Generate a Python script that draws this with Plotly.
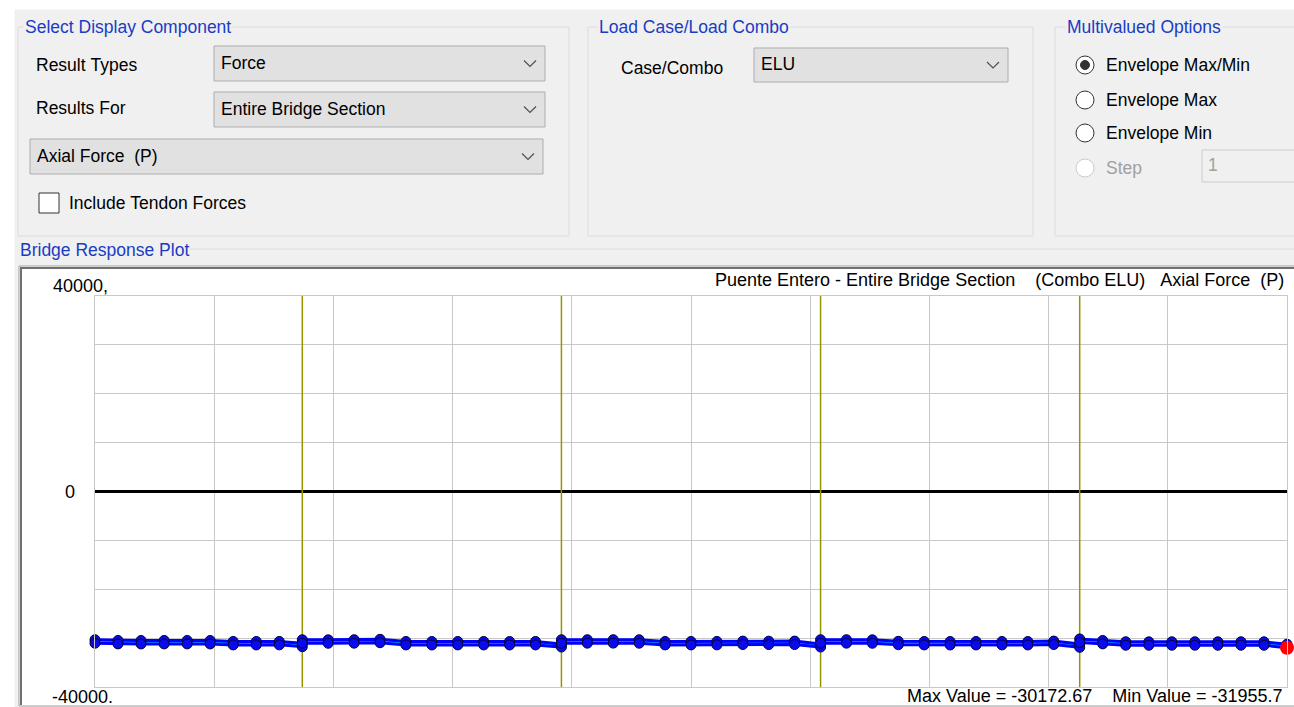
import plotly.graph_objects as go

# ---- data (kN, stations in m) ----
stations = [0, 2.22, 4.44, 6.67, 8.89, 11.11, 13.33, 15.56, 17.78, 20,
            20, 22.5, 25, 27.5, 30, 32.5, 35, 37.5, 40, 42.5, 45,
            45, 47.5, 50, 52.5, 55, 57.5, 60, 62.5, 65, 67.5, 70,
            70, 72.5, 75, 77.5, 80, 82.5, 85, 87.5, 90, 92.5, 95,
            95, 97.22, 99.44, 101.67, 103.89, 106.11, 108.33, 110.56, 112.78, 115]

axial_max = [-30340, -30480, -30490, -30480, -30480, -30490, -30690, -30690, -30680, -31060,
             -30340, -30350, -30330, -30240, -30690, -30700, -30690, -30690, -30700, -30690, -31200,
             -30340, -30330, -30320, -30340, -30690, -30690, -30680, -30610, -30620, -30610, -31200,
             -30340, -30330, -30350, -30650, -30690, -30700, -30690, -30690, -30700, -30610, -31220,
             -30172.67, -30480, -30750, -30760, -30750, -30750, -30760, -30750, -30760, -31250]

axial_min = [-31040, -31180, -31190, -31180, -31180, -31190, -31390, -31390, -31380, -31760,
             -31040, -31050, -31030, -30940, -31390, -31400, -31390, -31390, -31400, -31390, -31820,
             -31040, -31030, -31020, -31040, -31390, -31390, -31380, -31310, -31320, -31310, -31820,
             -31040, -31030, -31050, -31350, -31390, -31400, -31390, -31390, -31400, -31310, -31880,
             -30900, -31180, -31450, -31460, -31450, -31450, -31460, -31450, -31460, -31955.7]

support_stations = [20, 45, 70, 95]
bridge_length = 115
y_limit = 40000
ytick_values = [40000, 0, -40000]
ytick_text = ["40000,", "0", "-40000."]

result_types = "Force"
results_for = "Entire Bridge Section"
component = "Axial Force  (P)"
combo = "ELU"
bridge_name = "Puente Entero"

W, H = 1294, 707
FONT = "Liberation Sans, Arial, sans-serif"
UI_FONT_SIZE = 17.5
PLOT_FONT_SIZE = 18
TITLE_BLUE = "#1A3CC4"
PANEL = "#F0F0F0"


def px(x):
    return x / W


def py(y):
    return 1 - y / H


def nb(text):
    """Keep repeated spaces when drawn as svg text."""
    return text.replace(" ", "\u00a0")


shapes = []
annotations = []


def rect(x0, y0, x1, y1, fill=None, line="#DCDCDC", width=1, layer="below"):
    shapes.append(dict(type="rect", xref="paper", yref="paper",
                       x0=px(x0), x1=px(x1), y0=py(y1), y1=py(y0),
                       fillcolor=fill or "rgba(0,0,0,0)",
                       line=dict(color=line, width=width), layer=layer))


def hline(x0, x1, y, color, width=1):
    shapes.append(dict(type="line", xref="paper", yref="paper",
                       x0=px(x0), x1=px(x1), y0=py(y), y1=py(y),
                       line=dict(color=color, width=width), layer="below"))


def vline(x, y0, y1, color, width=1):
    shapes.append(dict(type="line", xref="paper", yref="paper",
                       x0=px(x), x1=px(x), y0=py(y0), y1=py(y1),
                       line=dict(color=color, width=width), layer="below"))


def circle(cx, cy, r, fill, line, width=1):
    shapes.append(dict(type="circle", xref="paper", yref="paper",
                       x0=px(cx - r), x1=px(cx + r), y0=py(cy + r), y1=py(cy - r),
                       fillcolor=fill, line=dict(color=line, width=width), layer="above"))


def text(x, y, s, color="#000000", anchor="left", size=UI_FONT_SIZE, bg=None):
    annotations.append(dict(xref="paper", yref="paper", x=px(x), y=py(y),
                            text=nb(s), showarrow=False, xanchor=anchor, yanchor="middle",
                            font=dict(family=FONT, size=size, color=color),
                            bgcolor=bg, borderpad=1))


def dropdown(x0, y0, x1, y1, label):
    rect(x0, y0, x1, y1, fill="#E1E1E1", line="#ADADAD")
    cy = (y0 + y1) / 2
    cx = x1 - 15
    shapes.append(dict(type="path", xref="paper", yref="paper",
                       path=f"M {px(cx - 6)},{py(cy - 3)} L {px(cx)},{py(cy + 3)} L {px(cx + 6)},{py(cy - 3)}",
                       line=dict(color="#505050", width=1.2), layer="above"))
    text(x0 + 5, cy - 1, label)


# ---- window background ----
rect(15, 10, 1300, 710, fill=PANEL, line=PANEL)

# ---- Select Display Component ----
rect(18, 27, 569, 236)
text(23, 27, "Select Display Component", TITLE_BLUE, bg=PANEL)
text(34, 65, "Result Types")
dropdown(214, 46, 545, 81, result_types)
text(34, 108, "Results For")
dropdown(214, 92, 545, 127, results_for)
dropdown(30, 139, 543, 174, component)
rect(39, 193, 59, 213, fill="#FFFFFF", line="#333333")
text(67, 203, "Include Tendon Forces")

# ---- Load Case/Load Combo ----
rect(588, 27, 1033, 236)
text(597, 27, "Load Case/Load Combo", TITLE_BLUE, bg=PANEL)
text(619, 68, "Case/Combo")
dropdown(754, 48, 1008, 82, combo)

# ---- Multivalued Options ----
rect(1055, 27, 1310, 236)
text(1065, 27, "Multivalued Options", TITLE_BLUE, bg=PANEL)
for cy, label in [(65, "Envelope Max/Min"), (100, "Envelope Max"), (133, "Envelope Min")]:
    circle(1085, cy, 9, "#FFFFFF", "#333333")
    text(1104, cy, label)
circle(1085, 65, 4.5, "#333333", "#333333")
circle(1085, 168, 9, "#FFFFFF", "#CCCCCC")
text(1104, 168, "Step", "#A0A0A0")
rect(1202, 150, 1310, 182, fill=PANEL, line="#CCCCCC")
text(1206, 165, "1", "#A0A0A0")

# ---- Bridge Response Plot frame ----
hline(18, 1294, 249, "#DCDCDC")
text(18, 250, "Bridge Response Plot", TITLE_BLUE, bg=PANEL)
rect(19, 266, 1300, 706, fill="#FFFFFF", line="#A0A0A0")
hline(20, 1294, 268, "#707070", 2)
vline(21, 267, 705, "#707070", 2)

# olive support lines
for s in support_stations:
    shapes.append(dict(type="line", xref="x", yref="y", x0=s, x1=s, y0=-y_limit, y1=y_limit,
                       line=dict(color="#959500", width=1.5), layer="between"))

fig = go.Figure()

# envelope band: max line, min line filled to max
fig.add_trace(go.Scatter(x=stations, y=axial_max, mode="lines",
                         line=dict(color="#0000FF", width=3), cliponaxis=False))
fig.add_trace(go.Scatter(x=stations, y=axial_min, mode="lines", fill="tonexty",
                         fillcolor="#00CCFF", line=dict(color="#0000FF", width=3),
                         cliponaxis=False))
for series in (axial_max, axial_min):
    fig.add_trace(go.Scatter(x=stations, y=series, mode="markers",
                             marker=dict(size=10, color="#0A0AF0", line=dict(color="#000030", width=1)),
                             cliponaxis=False))

# red marker at the overall minimum
i_min = axial_min.index(min(axial_min))
fig.add_trace(go.Scatter(x=[stations[i_min]], y=[axial_min[i_min]], mode="markers",
                         marker=dict(size=14, color="#FF0000"), cliponaxis=False))

# y labels in the program's own style
annotations.append(dict(xref="paper", yref="y", x=px(51), y=ytick_values[0], text=ytick_text[0],
                        showarrow=False, xanchor="left", yanchor="bottom", yshift=-2,
                        font=dict(family=FONT, size=PLOT_FONT_SIZE, color="#000000")))
annotations.append(dict(xref="paper", yref="y", x=px(70), y=ytick_values[1], text=ytick_text[1],
                        showarrow=False, xanchor="center", yanchor="middle",
                        font=dict(family=FONT, size=PLOT_FONT_SIZE, color="#000000")))
annotations.append(dict(xref="paper", yref="y", x=px(50), y=ytick_values[2], text=ytick_text[2],
                        showarrow=False, xanchor="left", yanchor="top", yshift=2,
                        font=dict(family=FONT, size=PLOT_FONT_SIZE, color="#000000")))

plot_title = f"{bridge_name} - {results_for}    (Combo {combo})   {component}"
text(1286, 280, plot_title, anchor="right", size=PLOT_FONT_SIZE)
text(1285, 696, f"Max Value = {max(axial_max)}    Min Value = {min(axial_min)}", anchor="right",
     size=PLOT_FONT_SIZE)

fig.update_layout(
    width=W, height=H,
    margin=dict(l=0, r=0, t=0, b=0),
    paper_bgcolor="#FFFFFF",
    plot_bgcolor="#FFFFFF",
    showlegend=False,
    hovermode=False,
    shapes=shapes,
    annotations=annotations,
    xaxis=dict(domain=[px(95), px(1287)], range=[0, bridge_length], dtick=bridge_length / 10, tick0=0,
               showgrid=True, gridcolor="#C8C8C8", gridwidth=1, zeroline=False,
               showline=True, mirror=True, linecolor="#C8C8C8", showticklabels=False, ticks=""),
    yaxis=dict(domain=[py(687), py(296)], range=[-y_limit, y_limit], dtick=10000,
               showgrid=True, gridcolor="#C8C8C8", gridwidth=1,
               zeroline=True, zerolinecolor="#000000", zerolinewidth=2.5,
               showline=True, mirror=True, linecolor="#C8C8C8", showticklabels=False, ticks=""),
)

fig.write_html("out.html", config={"displayModeBar": False},
               post_script="document.body.style.margin='0';document.body.style.overflow='hidden';")
